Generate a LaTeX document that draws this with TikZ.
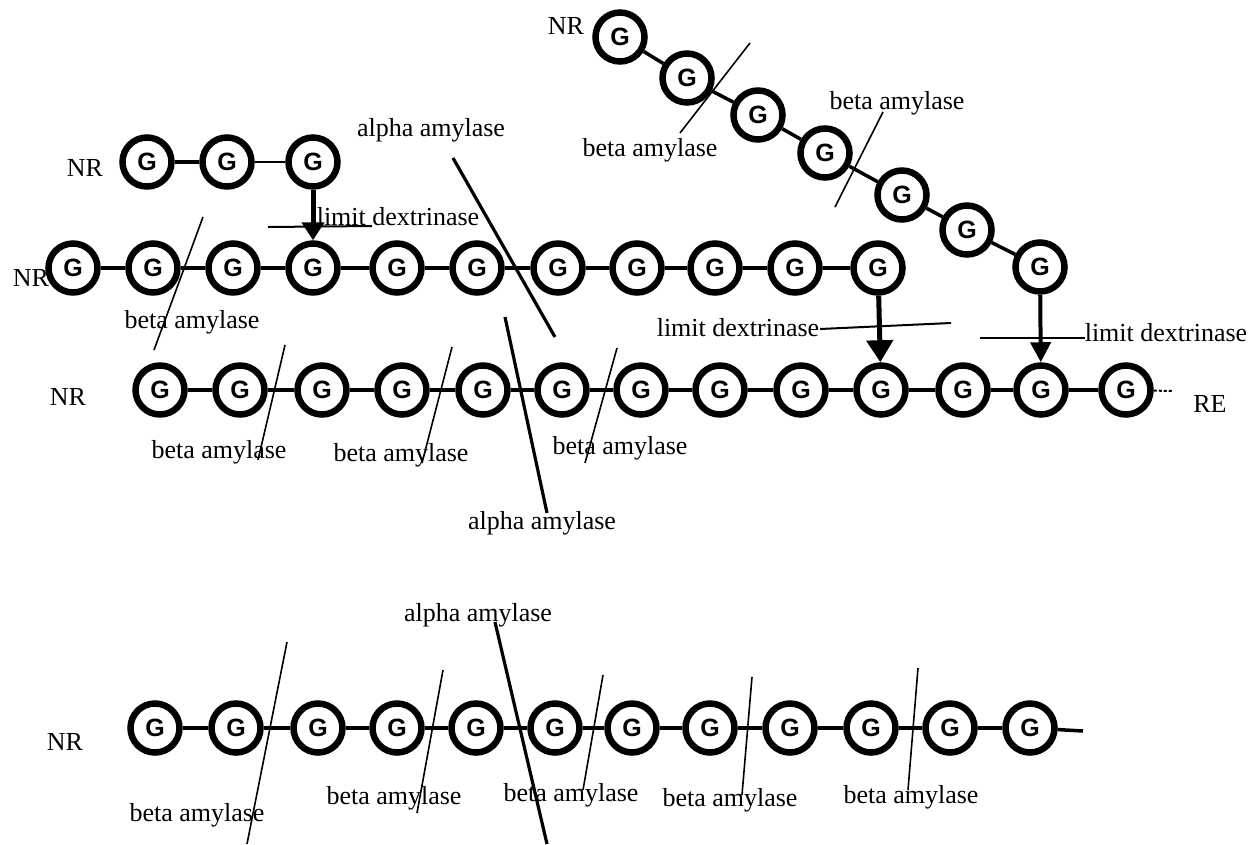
\documentclass[tikz,border=0pt]{standalone}
\usepackage{fontspec}
\setmainfont{Liberation Serif}
\newfontfamily\gfont{Liberation Sans}
\usetikzlibrary{arrows.meta}

\begin{document}
\begin{tikzpicture}[x=1pt,y=-1pt,
  glu/.style={circle,draw,line width=6.5pt,minimum size=49pt,inner sep=0pt,
    font=\gfont\bfseries\fontsize{25}{25}\selectfont},
  link/.style={line width=3.5pt},
  thinlink/.style={line width=2pt},
  lbl/.style={inner sep=0pt,font=\fontsize{26}{30}\selectfont},
  betacut/.style={line width=1.6pt},
  alphacut/.style={line width=3.2pt},
  limitcut/.style={line width=2pt},
  debranch/.style={line width=5pt,-{Triangle[width=22pt,length=18pt]}}
]
\useasboundingbox (0,0) rectangle (1258,844);
\fill[white] (0,0) rectangle (1258,844);

% short side chain
\foreach \x [count=\i] in {147,227,313}
  \node[glu] (a\i) at (\x,162) {G};
\draw[link] (a1) -- (a2);
\draw[thinlink] (a2) -- (a3);

% middle chain
\foreach \x [count=\i] in {73,153,233,313,397,477,558,637,715,795,878}
  \node[glu] (b\i) at (\x,268) {G};
\foreach \i in {1,...,10}{
  \pgfmathtruncatemacro{\j}{\i+1}
  \draw[link] (b\i) -- (b\j);
}

% long chain with reducing end
\foreach \x [count=\i] in {160,240,322,402,483,562,641,720,801,881,963,1041,1126}
  \node[glu] (c\i) at (\x,390) {G};
\foreach \i in {1,...,12}{
  \pgfmathtruncatemacro{\j}{\i+1}
  \draw[link] (c\i) -- (c\j);
}
\coordinate (ctail) at (1172,391);
\draw[line width=2pt,dash pattern=on 3pt off 2pt] (c13) -- (ctail);

% diagonal branch
\foreach \p [count=\i] in {(620,37),(687,78),(758,115),(825,153),(902,195),(967,230),(1040,267)}
  \node[glu] (d\i) at \p {G};
\foreach \i in {1,...,6}{
  \pgfmathtruncatemacro{\j}{\i+1}
  \draw[link] (d\i) -- (d\j);
}

% linear chain
\foreach \x [count=\i] in {155,236,318,397,476,555,632,710,790,871,950,1030}
  \node[glu] (e\i) at (\x,728) {G};
\foreach \i in {1,...,11}{
  \pgfmathtruncatemacro{\j}{\i+1}
  \draw[link] (e\i) -- (e\j);
}
\coordinate (etail) at (1083,731);
\draw[link] (e12) -- (etail);

% chain ends
\node[lbl] (nrA) at (85,168) {NR};
\node[lbl] (nrB) at (31,278) {NR};
\node[lbl] (nrC) at (68,397) {NR};
\node[lbl] (nrD) at (566,26) {NR};
\node[lbl] (nrE) at (65,742) {NR};
\node[lbl] (re) at (1210,404) {RE};

% debranching (limit dextrinase)
\draw[debranch] (a3) -- (b4);
\draw[debranch,-{Triangle[width=26pt,length=22pt]}] (b11) -- (c10);
\draw[debranch,line width=4pt,-{Triangle[width=20pt,length=20pt]}] (d7) -- (c12);
\draw[limitcut] (268,227) -- (372,226);
\draw[limitcut] (820,329) -- (951,323);
\draw[limitcut] (980,338) -- (1085,338);
\node[lbl] (ld1) at (398,217) {limit dextrinase};
\node[lbl] (ld2) at (738,328) {limit dextrinase};
\node[lbl] (ld3) at (1166,333) {limit dextrinase};

% alpha amylase cuts
\draw[alphacut] (453,158) -- (555,337);
\draw[alphacut] (505,317) -- (547,513);
\draw[alphacut] (495,622) -- (547,844);
\node[lbl] (aa1) at (431,130) {alpha amylase};
\node[lbl] (aa2) at (542,523) {alpha amylase};
\node[lbl] (aa3) at (478,615) {alpha amylase};

% beta amylase cuts
\draw[betacut] (203,217) -- (154,350);
\draw[betacut] (285,345) -- (258,460);
\draw[betacut] (452,347) -- (422,463);
\draw[betacut] (617,348) -- (585,463);
\draw[betacut] (750,43) -- (680,133);
\draw[betacut] (883,112) -- (835,207);
\draw[betacut] (287,642) -- (247,844);
\draw[betacut] (443,670) -- (417,813);
\draw[betacut] (603,675) -- (583,790);
\draw[betacut] (752,677) -- (742,795);
\draw[betacut] (918,668) -- (908,790);
\node[lbl] (ba1) at (192,322) {beta amylase};
\node[lbl] (ba2) at (650,150) {beta amylase};
\node[lbl] (ba3) at (897,103) {beta amylase};
\node[lbl] (ba4) at (219,452) {beta amylase};
\node[lbl] (ba5) at (401,455) {beta amylase};
\node[lbl] (ba6) at (620,448) {beta amylase};
\node[lbl] (ba7) at (197,815) {beta amylase};
\node[lbl] (ba8) at (394,798) {beta amylase};
\node[lbl] (ba9) at (571,795) {beta amylase};
\node[lbl] (ba10) at (730,800) {beta amylase};
\node[lbl] (ba11) at (911,797) {beta amylase};
\end{tikzpicture}
\end{document}
